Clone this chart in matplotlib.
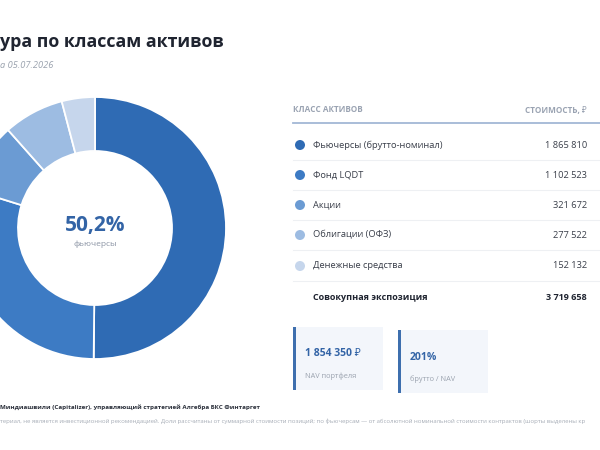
import matplotlib
matplotlib.use("Agg")
import matplotlib.pyplot as plt
from matplotlib.patches import Rectangle, Circle

plt.rcParams['font.family'] = ['Open Sans', 'Noto Sans', 'DejaVu Sans']

# данные
categories = ['Фьючерсы (брутто-номинал)', 'Фонд LQDT', 'Акции', 'Облигации (ОФЗ)', 'Денежные средства']
values = [1865810, 1102523, 321672, 277522, 152132]
colors = ['#2f6bb4', '#3d7bc4', '#6b9bd3', '#9dbce2', '#c6d6ec']
total = 3719658   # как в таблице (округление)
nav = 1854350


def fmt(v):
    return f"{v:,}".replace(",", " ")


W, H = 600, 450
my_dpi = 100
fig = plt.figure(figsize=(W / my_dpi, H / my_dpi), dpi=my_dpi)
fig.patch.set_facecolor('white')

# пончик (координаты в пикселях, центр 95, 228)
cx, cy, R = 95, 228, 136
axp = fig.add_axes([(cx - R) / W, (H - cy - R) / H, 2 * R / W, 2 * R / H])
axp.pie(values, colors=colors, startangle=90, counterclock=False, radius=131,
        wedgeprops=dict(width=54, edgecolor='white', linewidth=1.3))
axp.set_xlim(-R, R)
axp.set_ylim(-R, R)
axp.set_aspect('equal')
axp.axis('off')
share = values[0] / total * 100
axp.text(0, 3, f"{share:.1f}%".replace('.', ','), ha='center', va='center',
         fontsize=15, fontweight='bold', color='#3364a6')
axp.text(0, -16, 'фьючерсы', ha='center', va='center', fontsize=6, color='#8a93a3')

# слой для текста и таблицы
ax = fig.add_axes([0, 0, 1, 1])
ax.set_xlim(0, W)
ax.set_ylim(H, 0)
ax.axis('off')
ax.patch.set_alpha(0)

ax.text(0, 42, 'ура по классам активов', fontsize=12.8, fontweight='bold',
        color='#1f2430', va='center', ha='left')
ax.text(0, 65, 'а 05.07.2026', fontsize=6.7, style='italic', color='#9aa2ae',
        va='center', ha='left')

# таблица
xl, xr = 293, 587
ax.text(xl, 110, 'КЛАСС АКТИВОВ', fontsize=5.9, fontweight='bold', color='#9aa3b2',
        va='center', ha='left')
ax.text(xr, 110, 'СТОИМОСТЬ, ₽', fontsize=5.9, fontweight='bold', color='#9aa3b2',
        va='center', ha='right')
ax.plot([xl, W], [123, 123], color='#a3b7d6', lw=1.3)

row_y = [145, 175, 205, 235, 266]
for i, (cat, v) in enumerate(zip(categories, values)):
    y = row_y[i]
    ax.add_patch(Circle((300, y), 5, color=colors[i], lw=0))
    ax.text(313, y, cat, fontsize=6.7, color='#3a3f4a', va='center', ha='left')
    ax.text(xr, y, fmt(v), fontsize=6.7, color='#3a3f4a', va='center', ha='right')
    ax.plot([xl, W], [y + 15, y + 15], color='#eef0f3', lw=0.8)

ax.text(313, 298, 'Совокупная экспозиция', fontsize=6.5, fontweight='bold',
        color='#1f2430', va='center', ha='left')
ax.text(xr, 298, fmt(total), fontsize=6.5, fontweight='bold',
        color='#1f2430', va='center', ha='right')

# карточки
cards = [
    (293, 327, f"{fmt(nav)} ₽", 'NAV портфеля'),
    (398, 330, f"{round(total / nav * 100)}%", 'брутто / NAV'),
]
for x0, y0, big, small in cards:
    ax.add_patch(Rectangle((x0, y0), 90, 63, facecolor='#f3f6fb', edgecolor='none'))
    ax.add_patch(Rectangle((x0, y0), 3, 63, facecolor='#3e6fae', edgecolor='none'))
    ax.text(x0 + 12, y0 + 27, big, fontsize=7.5, fontweight='bold', color='#3364a6',
            va='center', ha='left')
    ax.text(x0 + 12, y0 + 49, small, fontsize=5.3, color='#9aa2ae', va='center', ha='left')

# подвал
ax.text(0, 407, 'Миндиашвили (Capitalizer), управляющий стратегией Алгебра БКС Финтаргет',
        fontsize=4.5, fontweight='bold', color='#2a2f3a', va='center', ha='left')
ax.text(0, 421, 'териал, не является инвестиционной рекомендацией. Доли рассчитаны от суммарной '
        'стоимости позиций; по фьючерсам — от абсолютной номинальной стоимости контрактов (шорты выделены кр',
        fontsize=4.35, color='#a7adb7', va='center', ha='left')

fig.savefig('out.png', dpi=my_dpi, facecolor='white')
